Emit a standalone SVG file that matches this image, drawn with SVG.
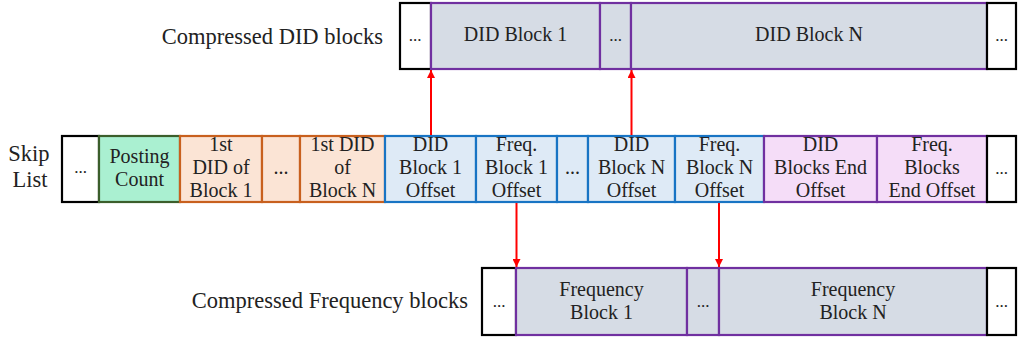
<svg xmlns="http://www.w3.org/2000/svg" width="1019" height="341" viewBox="0 0 1019 341">
<style>
text{font-family:"Liberation Serif","Times New Roman",serif;font-size:20px;fill:#222;text-anchor:middle}
.side{font-size:22.5px}
.end{text-anchor:end}
.dots{font-size:17px}
.blk{fill:#fff;stroke:#000;stroke-width:2.2}
.grn{fill:#aaf0d1;stroke:#3b5e2b;stroke-width:2.2}
.org{fill:#fbe4d5;stroke:#c8601e;stroke-width:2.2}
.blu{fill:#deeaf6;stroke:#1874c4;stroke-width:2.2}
.pnk{fill:#f5ddf8;stroke:#7030a0;stroke-width:2.2}
.gry{fill:#d6dce5;stroke:#7030a0;stroke-width:2.2}
.arr{stroke:#ff0000;stroke-width:2;fill:none;marker-end:url(#ah)}
</style>
<defs>
<marker id="ah" viewBox="0 0 10 10" refX="10" refY="5" markerWidth="4" markerHeight="4" orient="auto" markerUnits="strokeWidth">
<path d="M0,0 L10,5 L0,10 Z" fill="#ff0000"/>
</marker>
</defs>
<rect width="1019" height="341" fill="#fff"/>
<text class="side end" x="383" y="44">Compressed DID blocks</text>
<text class="side" x="29" y="161">Skip</text>
<text class="side" x="30" y="187">List</text>
<text class="side end" x="468" y="308">Compressed Frequency blocks</text>

<g id="top-row">
<g id="top-dots-left"><rect class="blk" x="400" y="3" width="31" height="66"/><text class="dots" x="415" y="41">...</text></g>
<g id="did-block-1"><rect class="gry" x="431" y="3" width="169" height="66"/><text x="515.5" y="41">DID Block 1</text></g>
<g id="top-dots-mid"><rect class="gry" x="600" y="3" width="31" height="66"/><text class="dots" x="615.5" y="41">...</text></g>
<g id="did-block-n"><rect class="gry" x="631" y="3" width="356" height="66"/><text x="809" y="41">DID Block N</text></g>
<g id="top-dots-right"><rect class="blk" x="987" y="3" width="29" height="66"/><text class="dots" x="1001.5" y="41">...</text></g>
</g>

<g id="skip-list">
<g id="sl-dots-left"><rect class="blk" x="62" y="136" width="37" height="66"/><text class="dots" x="80.5" y="173">...</text></g>
<g id="posting-count"><rect class="grn" x="99" y="136" width="81" height="66"/><text x="139.5" y="163">Posting</text><text x="139.5" y="186">Count</text></g>
<g id="first-did-1"><rect class="org" x="180" y="136" width="82" height="66"/><text x="221" y="151">1st</text><text x="221" y="174">DID of</text><text x="221" y="197">Block 1</text></g>
<g id="sl-dots-org"><rect class="org" x="262" y="136" width="38" height="66"/><text x="281" y="174">...</text></g>
<g id="first-did-n"><rect class="org" x="300" y="136" width="85" height="66"/><text x="342.5" y="151">1st DID</text><text x="342.5" y="174">of</text><text x="342.5" y="197">Block N</text></g>
<g id="did-off-1"><rect class="blu" x="385" y="136" width="91" height="66"/><text x="430.5" y="151">DID</text><text x="430.5" y="174">Block 1</text><text x="430.5" y="197">Offset</text></g>
<g id="freq-off-1"><rect class="blu" x="476" y="136" width="81" height="66"/><text x="516.5" y="151">Freq.</text><text x="516.5" y="174">Block 1</text><text x="516.5" y="197">Offset</text></g>
<g id="sl-dots-blu"><rect class="blu" x="557" y="136" width="31" height="66"/><text x="572.5" y="174">...</text></g>
<g id="did-off-n"><rect class="blu" x="588" y="136" width="87" height="66"/><text x="631.5" y="151">DID</text><text x="631.5" y="174">Block N</text><text x="631.5" y="197">Offset</text></g>
<g id="freq-off-n"><rect class="blu" x="675" y="136" width="89" height="66"/><text x="719.5" y="151">Freq.</text><text x="719.5" y="174">Block N</text><text x="719.5" y="197">Offset</text></g>
<g id="did-end"><rect class="pnk" x="764" y="136" width="113" height="66"/><text x="820.5" y="151">DID</text><text x="820.5" y="174">Blocks End</text><text x="820.5" y="197">Offset</text></g>
<g id="freq-end"><rect class="pnk" x="877" y="136" width="110" height="66"/><text x="932" y="151">Freq.</text><text x="932" y="174">Blocks</text><text x="932" y="197">End Offset</text></g>
<g id="sl-dots-right"><rect class="blk" x="987" y="136" width="29" height="66"/><text class="dots" x="1001.5" y="174">...</text></g>
</g>

<g id="bottom-row">
<g id="bot-dots-left"><rect class="blk" x="482" y="268" width="34" height="67"/><text class="dots" x="499" y="307">...</text></g>
<g id="freq-block-1"><rect class="gry" x="516" y="268" width="171" height="67"/><text x="601.5" y="296">Frequency</text><text x="601.5" y="319">Block 1</text></g>
<g id="bot-dots-mid"><rect class="gry" x="687" y="268" width="32" height="67"/><text class="dots" x="703" y="307">...</text></g>
<g id="freq-block-n"><rect class="gry" x="719" y="268" width="268" height="67"/><text x="853" y="296">Frequency</text><text x="853" y="319">Block N</text></g>
<g id="bot-dots-right"><rect class="blk" x="987" y="268" width="29" height="67"/><text class="dots" x="1001.5" y="307">...</text></g>
</g>

<g id="connectors">
<line class="arr" x1="431" y1="135" x2="431" y2="70"/>
<line class="arr" x1="631.5" y1="135" x2="631.5" y2="70"/>
<line class="arr" x1="516.5" y1="203" x2="516.5" y2="267"/>
<line class="arr" x1="719" y1="203" x2="719" y2="267"/>
</g>
</svg>
